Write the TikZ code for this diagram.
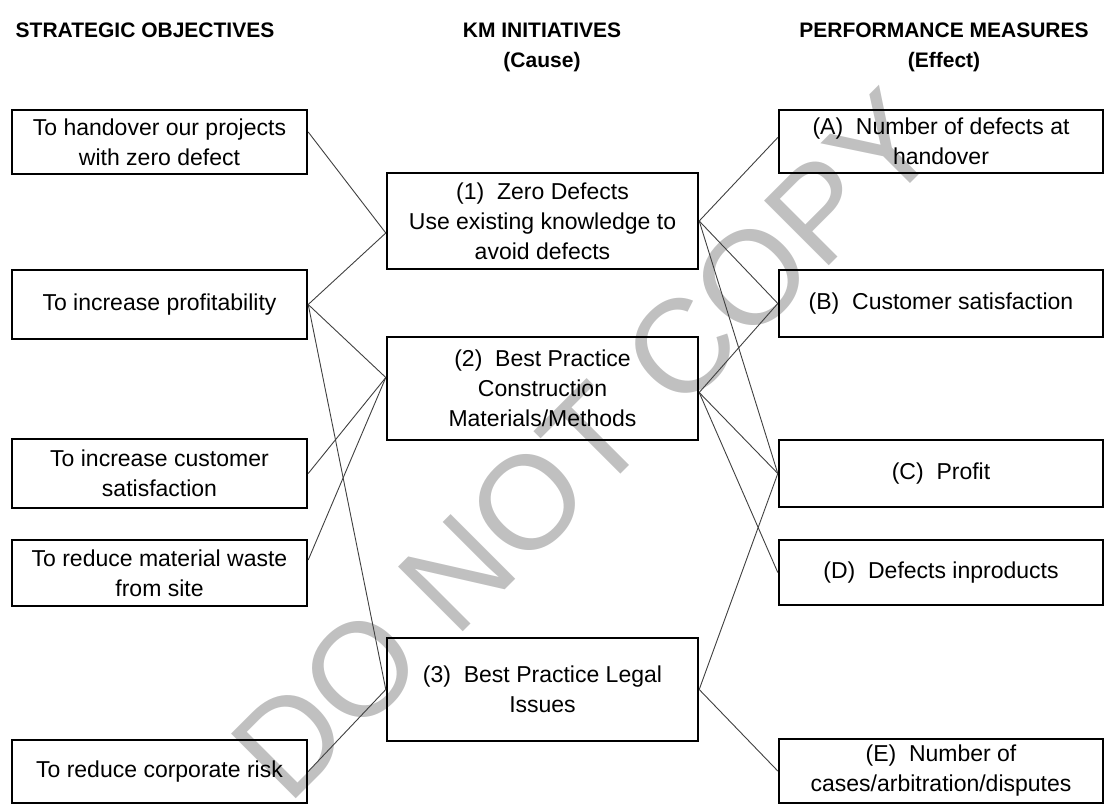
\documentclass[tikz,border=0pt]{standalone}
\usepackage{fontspec}
\setmainfont{Liberation Sans}
\usepackage{tikz}
\definecolor{wmgray}{RGB}{192,192,192}

\begin{document}
\begin{tikzpicture}[x=1pt,y=-1pt,
	box/.style={draw,line width=2.4pt,inner sep=0pt,align=center,
		font=\fontsize{23}{30}\selectfont},
	objbox/.style={box,minimum width=295pt},
	initbox/.style={box,minimum width=311pt},
	measbox/.style={box,minimum width=324pt},
	head/.style={font=\fontsize{21}{30}\selectfont\bfseries,inner sep=0pt},
	link/.style={line width=0.9pt,black!75}]
\useasboundingbox (0,0) rectangle (1105,805);

% watermark
\node[text=wmgray,rotate=45,inner sep=0pt,font=\fontsize{133}{133}\selectfont] (wm) at (585,445) {DO NOT COPY};

% draw column heads
\node[head] (hobj) at (145,30) {STRATEGIC OBJECTIVES};
\node[head] (hinit) at (542,30) {KM INITIATIVES};
\node[head] (hinitc) at (542,62) {(Cause)};
\node[head] (hmeas) at (944,30) {PERFORMANCE MEASURES};
\node[head] (hmease) at (944,62) {(Effect)};

% draw strategic objectives
\node[objbox,minimum height=64pt] (l1) at (159.5,142) {To handover our projects\\with zero defect};
\node[objbox,minimum height=69pt] (l2) at (159.5,304.5) {To increase profitability};
\node[objbox,minimum height=69pt] (l3) at (159.5,473.5) {To increase customer\\satisfaction};
\node[objbox,minimum height=66pt] (l4) at (159.5,573) {To reduce material waste\\from site};
\node[objbox,minimum height=63pt] (l5) at (159.5,771.5) {To reduce corporate risk};

% draw km initiatives
\node[initbox,minimum height=96pt] (m1) at (542.5,221) {(1)\ \ Zero Defects\\Use existing knowledge to\\avoid defects};
\node[initbox,minimum height=103pt] (m2) at (542.5,388.5) {(2)\ \ Best Practice\\Construction\\Materials/Methods};
\node[initbox,minimum height=103pt] (m3) at (542.5,689.5) {(3)\ \ Best Practice Legal\\Issues};

% draw performance measures
\node[measbox,minimum height=63pt] (r1) at (941,141.5) {(A)\ \ Number of defects at\\handover};
\node[measbox,minimum height=67pt] (r2) at (941,303.5) {(B)\ \ Customer satisfaction};
\node[measbox,minimum height=67pt] (r3) at (941,473.5) {(C)\ \ Profit};
\node[measbox,minimum height=65pt] (r4) at (941,572.5) {(D)\ \ Defects inproducts};
\node[measbox,minimum height=64pt] (r5) at (941,771) {(E)\ \ Number of\\cases/arbitration/disputes};

% objectives -> initiatives
\draw[link] ([yshift=10pt]l1.east) -- ([yshift=-12pt]m1.west);
\draw[link] (l2.east) -- ([yshift=-12pt]m1.west);
\draw[link] (l2.east) -- ([yshift=11pt]m2.west);
\draw[link] (l2.east) -- (m3.west);
\draw[link] (l3.east) -- ([yshift=11pt]m2.west);
\draw[link] ([yshift=13pt]l4.east) -- ([yshift=11pt]m2.west);
\draw[link] (l5.east) -- (m3.west);

% initiatives -> measures
\draw[link] (m1.east) -- ([yshift=4pt]r1.west);
\draw[link] (m1.east) -- (r2.west);
\draw[link] (m1.east) -- (r3.west);
\draw[link] ([yshift=-4pt]m2.east) -- (r2.west);
\draw[link] ([yshift=-4pt]m2.east) -- (r3.west);
\draw[link] ([yshift=-4pt]m2.east) -- (r4.west);
\draw[link] (m3.east) -- (r3.west);
\draw[link] (m3.east) -- (r5.west);

\end{tikzpicture}
\end{document}
